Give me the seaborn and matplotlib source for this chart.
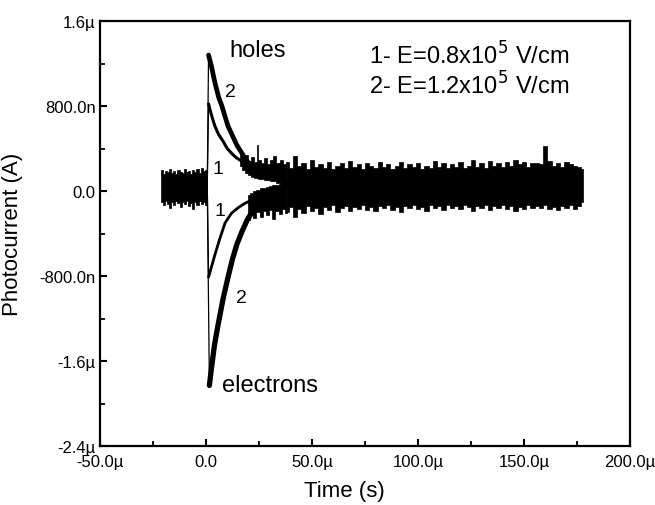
import numpy as np
import pandas as pd
import matplotlib
matplotlib.use("Agg")
import matplotlib.pyplot as plt
from matplotlib.ticker import MultipleLocator
import seaborn as sns

sns.set_theme(style="white")
plt.rcParams['font.family'] = ['Liberation Sans', 'DejaVu Sans']
plt.rcParams['text.color'] = 'black'
plt.rcParams['axes.labelcolor'] = 'black'
plt.rcParams['xtick.color'] = 'black'
plt.rcParams['ytick.color'] = 'black'

# ---------------- data (time in µs, current in µA) ----------------
# pre-trigger noise band (all traces overlap)
pre_t  = [-21, -20, -19, -18, -17, -16, -15, -14, -13, -12, -11, -10, -9, -8, -7,
          -6, -5, -4, -3, -2, -1, 0, 0.6]
pre_hi = [0.20, 0.16, 0.19, 0.18, 0.21, 0.17, 0.19, 0.16, 0.20, 0.18, 0.17, 0.21,
          0.18, 0.19, 0.16, 0.20, 0.18, 0.21, 0.17, 0.22, 0.19, 0.20, 0.19]
pre_lo = [-0.10, -0.13, -0.09, -0.12, -0.16, -0.10, -0.13, -0.09, -0.11, -0.15,
          -0.10, -0.12, -0.09, -0.14, -0.11, -0.17, -0.10, -0.13, -0.09, -0.12,
          -0.10, -0.13, -0.10]

# holes traces: early noisy tail
hole_tail_t  = [16, 17.5, 19, 20.5, 22, 23.5, 24.2, 25, 26.5, 28, 29.5, 31, 32.5, 34, 35.5, 37, 38]
hole_tail_hi = [0.38, 0.31, 0.34, 0.28, 0.32, 0.27, 0.43, 0.29, 0.26, 0.31, 0.25, 0.29,
                0.33, 0.26, 0.29, 0.25, 0.27]
hole_tail_lo = [0.24, 0.20, 0.17, 0.15, 0.13, 0.12, 0.12, 0.11, 0.11, 0.10, 0.10, 0.09,
                0.09, 0.08, 0.07, 0.06, 0.06]

# electrons traces: early noisy tail
elec_tail_t  = [20, 21.5, 23, 24.5, 26, 27.5, 29, 30.5, 32, 33.5, 35, 36.5, 38]
elec_tail_hi = [-0.04, -0.02, 0.00, 0.01, 0.03, 0.03, 0.04, 0.05, 0.06, 0.06, 0.07, 0.07, 0.07]
elec_tail_lo = [-0.27, -0.22, -0.25, -0.20, -0.24, -0.19, -0.23, -0.18, -0.26, -0.19,
                -0.22, -0.17, -0.21]

# merged noise band of all traces, sampled every 2 µs from 38 to 178 µs
tail_t = list(range(38, 180, 2))
tail_hi = [0.27, 0.22, 0.33, 0.24, 0.26, 0.21, 0.29, 0.23, 0.25, 0.22, 0.27, 0.21,
           0.24, 0.26, 0.22, 0.28, 0.23, 0.25, 0.21, 0.26,
           0.24, 0.22, 0.27, 0.23, 0.25, 0.21, 0.24, 0.27, 0.22, 0.25, 0.23, 0.26,
           0.21, 0.24, 0.22, 0.28, 0.23, 0.26, 0.22, 0.25,
           0.23, 0.27, 0.22, 0.24, 0.29, 0.23, 0.26, 0.22, 0.28, 0.24, 0.26, 0.23,
           0.27, 0.24, 0.29, 0.25, 0.27, 0.23, 0.26, 0.26,
           0.25, 0.42, 0.28, 0.24, 0.26, 0.23, 0.27, 0.25, 0.24, 0.23, 0.21]
tail_lo = [-0.20, -0.15, -0.24, -0.17, -0.21, -0.14, -0.19, -0.16, -0.22, -0.15,
           -0.18, -0.13, -0.20, -0.16, -0.14, -0.19, -0.15, -0.17, -0.13, -0.18,
           -0.15, -0.19, -0.14, -0.16, -0.13, -0.18, -0.15, -0.20, -0.14, -0.16,
           -0.13, -0.17, -0.15, -0.19, -0.13, -0.16, -0.14, -0.18, -0.13, -0.16,
           -0.14, -0.17, -0.13, -0.15, -0.19, -0.14, -0.16, -0.13, -0.18, -0.14,
           -0.16, -0.13, -0.17, -0.14, -0.19, -0.15, -0.17, -0.13, -0.16, -0.14,
           -0.16, -0.13, -0.17, -0.15, -0.18, -0.14, -0.16, -0.13, -0.17, -0.14, -0.10]

# transient decays
holes2_t = [0.6, 1.2, 2.5, 4.2, 6.0, 7.5, 9.0, 10.4, 12.5, 14.6, 16.5, 18.4, 21, 24]
holes2_v = [0.05, 1.28, 1.18, 1.02, 0.88, 0.80, 0.70, 0.61, 0.52, 0.43, 0.37, 0.31, 0.24, 0.19]

holes1_t = [0.6, 1.2, 2.5, 4.2, 6.0, 8.0, 10.0, 12.3, 14.5, 17.0, 20.0, 24.0]
holes1_v = [0.05, 0.82, 0.72, 0.61, 0.53, 0.47, 0.40, 0.35, 0.31, 0.28, 0.22, 0.17]

elec2_t = [0.6, 1.6, 2.5, 4.0, 5.6, 8.0, 10.4, 12.5, 14.6, 17.0, 19.5, 22.0, 25.0, 28.0]
elec2_v = [0.05, -1.83, -1.68, -1.45, -1.27, -1.02, -0.81, -0.64, -0.50, -0.38, -0.27, -0.19, -0.12, -0.08]

elec1_t = [0.6, 1.2, 2.5, 4.2, 6.5, 9.0, 12.0, 15.0, 18.0, 22.0, 26.0]
elec1_v = [0.05, -0.81, -0.72, -0.60, -0.45, -0.30, -0.21, -0.16, -0.12, -0.08, -0.05]

x_ticks = [-50, 0, 50, 100, 150, 200]
x_labels = ["-50.0µ", "0.0", "50.0µ", "100.0µ", "150.0µ", "200.0µ"]
y_ticks = [-2.4, -1.6, -0.8, 0.0, 0.8, 1.6]
y_labels = ["-2.4µ", "-1.6µ", "-800.0n", "0.0", "800.0n", "1.6µ"]

# ---------------- figure ----------------
fig = plt.figure(figsize=(6.55, 5.06), dpi=100)
ax = fig.add_axes([100/655, 1-447/506, 530/655, 425/506])

for t, lo, hi in [(pre_t, pre_lo, pre_hi),
                  (hole_tail_t, hole_tail_lo, hole_tail_hi),
                  (elec_tail_t, elec_tail_lo, elec_tail_hi),
                  (tail_t, tail_lo, tail_hi)]:
    ax.fill_between(t, lo, hi, color="black", lw=0.5, edgecolor="black", step="mid")

curves = [(holes2_t, holes2_v, 3.4), (holes1_t, holes1_v, 2.2),
          (elec2_t, elec2_v, 3.8), (elec1_t, elec1_v, 2.0)]
for t, v, lw in curves:
    # rising edge: thin line
    sns.lineplot(x=t[:2], y=v[:2], ax=ax, color="black", lw=0.9,
                 sort=False, estimator=None)
    sns.lineplot(x=t[1:], y=v[1:], ax=ax, color="black", lw=lw,
                 sort=False, estimator=None)

ax.set_xlim(-50, 200)
ax.set_ylim(-2.4, 1.6)
ax.set_xticks(x_ticks)
ax.set_xticklabels(x_labels)
ax.set_yticks(y_ticks)
ax.set_yticklabels(y_labels)
ax.xaxis.set_minor_locator(MultipleLocator(25))
ax.yaxis.set_minor_locator(MultipleLocator(0.4))
ax.tick_params(axis="both", which="major", direction="in", length=5, width=1.5,
               labelsize=12, colors="black", bottom=True, left=True,
               top=False, right=False)
ax.tick_params(axis="x", which="major", pad=6)
ax.tick_params(axis="y", which="major", pad=3)
ax.tick_params(axis="both", which="minor", direction="in", length=3.5, width=1.3,
               bottom=True, left=True, top=False, right=False)
for s in ax.spines.values():
    s.set_linewidth(1.6)
    s.set_color("black")

ax.set_xlabel("Time (s)", fontsize=16)
ax.set_ylabel("Photocurrent (A)", fontsize=16)
ax.xaxis.label.set_verticalalignment("center")
ax.yaxis.label.set_verticalalignment("center")
ax.xaxis.set_label_coords(0.462, -0.104)
ax.yaxis.set_label_coords(-0.166, 0.5)

txt = dict(color="black", fontsize=17)
ax.text(10.8, 1.33, "holes", ha="left", va="center", **txt)
ax.text(11.3, 0.94, "2", ha="center", va="center", fontsize=14)
ax.text(5.8, 0.21, "1", ha="center", va="center", fontsize=14)
ax.text(6.6, -0.18, "1", ha="center", va="center", fontsize=14)
ax.text(16.5, -1.0, "2", ha="center", va="center", fontsize=14)
ax.text(7.5, -1.83, "electrons", ha="left", va="center", **txt)

ax.text(0.508, 0.92, r"1- E=0.8x10$^5$ V/cm", transform=ax.transAxes,
        ha="left", va="center", fontsize=17)
ax.text(0.508, 0.85, r"2- E=1.2x10$^5$ V/cm", transform=ax.transAxes,
        ha="left", va="center", fontsize=17)

fig.savefig("out.png", dpi=100)
